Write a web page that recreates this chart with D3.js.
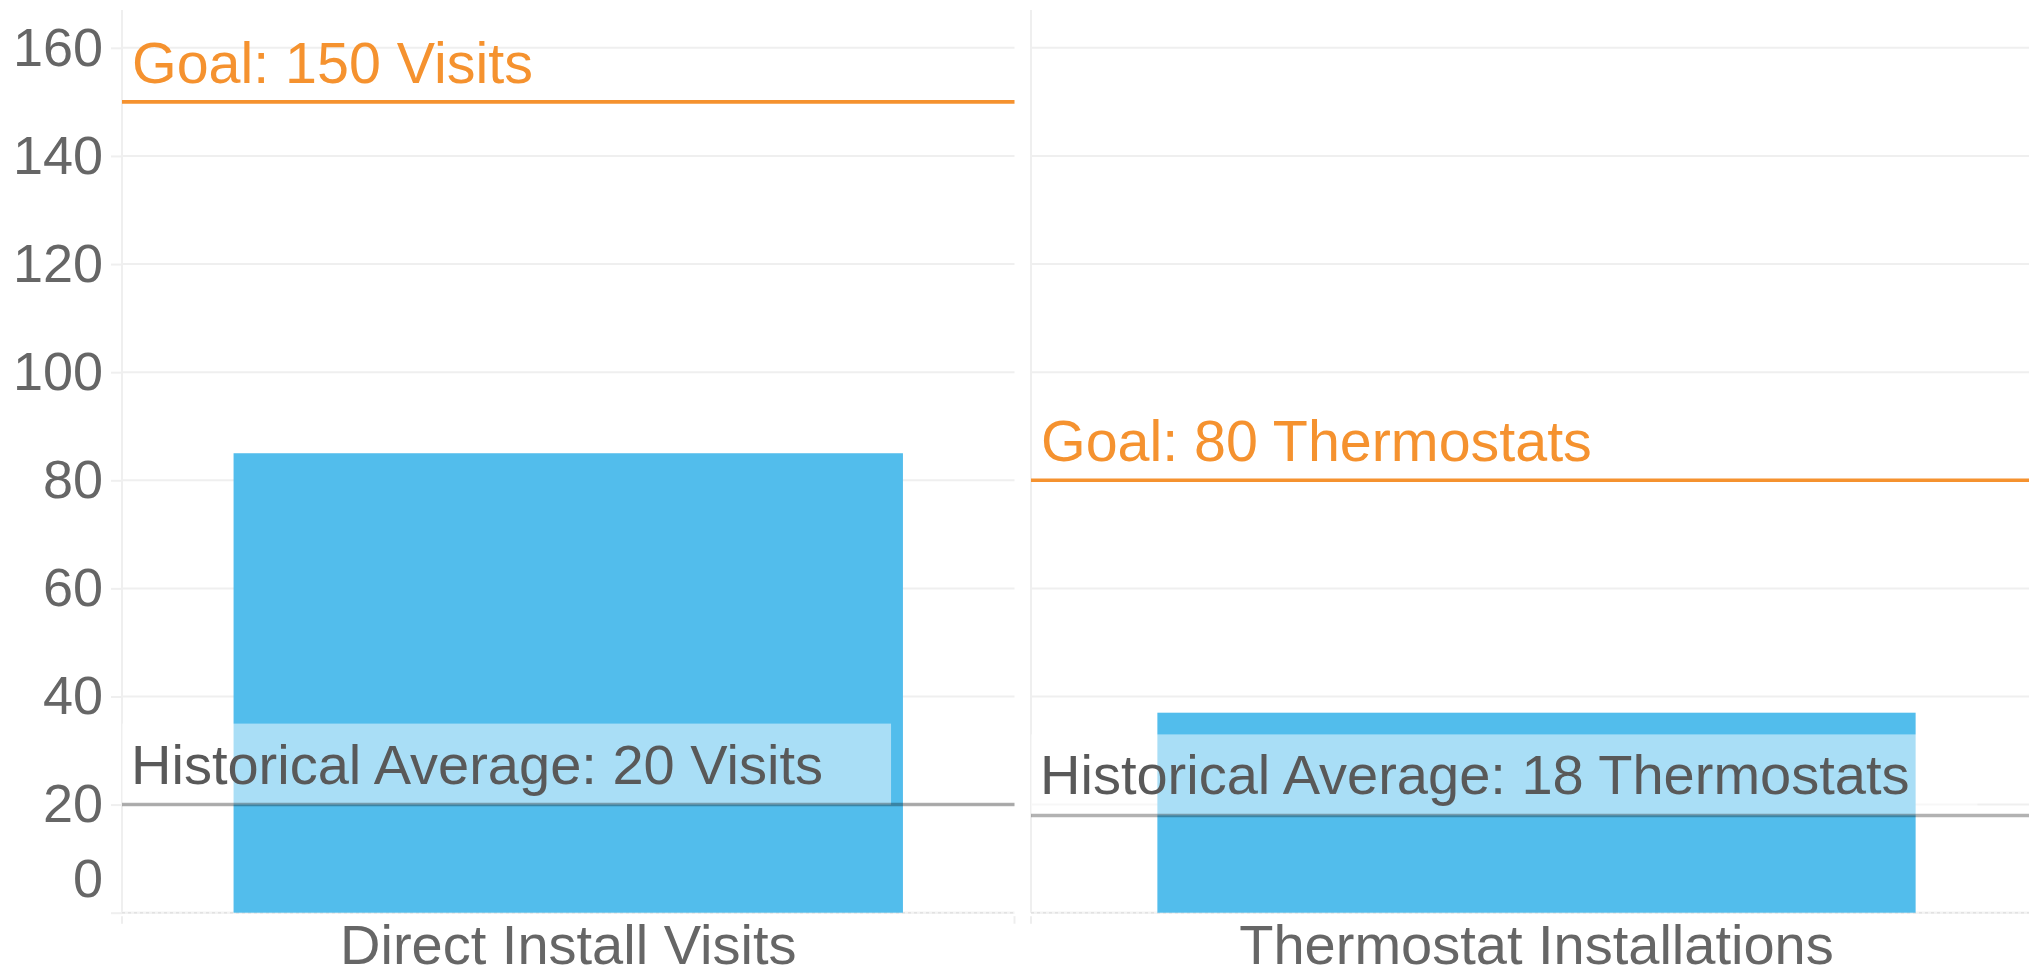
<!DOCTYPE html>
<html>
<head>
<meta charset="utf-8">
<script src="https://cdn.jsdelivr.net/npm/d3@7"></script>
<style>
  html, body { margin: 0; padding: 0; background: #ffffff; overflow: hidden; }
  svg { display: block; font-family: "Liberation Sans", Arial, Helvetica, sans-serif; }
</style>
</head>
<body>
<svg id="chart" width="2029" height="976"></svg>
<script>
// ---- Data ----
const categories = ["Direct Install Visits", "Thermostat Installations"];
const actualValues = [85, 37];
const goalValues = [150, 80];
const goalLabels = ["Goal: 150 Visits", "Goal: 80 Thermostats"];
const averageValues = [20, 18];
const averageLabels = ["Historical Average: 20 Visits", "Historical Average: 18 Thermostats"];
const yTickValues = [0, 20, 40, 60, 80, 100, 120, 140, 160];
const yDomainMax = 167;

// ---- Layout / style ----
const W = 2029, H = 976;
const plotTop = 10, plotBottom = 912.7;
const facetExtents = [[122, 1014.5], [1031, 2042]];
const barColor = "#52bdec";
const goalColor = "#f5922f";
const gridColor = "#efefef";
const tickTextColor = "#666666";
const annoTextColor = "#595959";
const fontSize = 56;
const goalFontSize = 57.4;

const svg = d3.select("#chart");
svg.append("rect").attr("width", W).attr("height", H).attr("fill", "#ffffff");

const y = d3.scaleLinear().domain([0, yDomainMax]).range([plotBottom, plotTop]);

categories.forEach((cat, i) => {
  const [x0, x1] = facetExtents[i];
  const x = d3.scaleBand().domain([cat]).range([x0, x1]).paddingInner(0.25).paddingOuter(0.125);
  const g = svg.append("g");

  // horizontal grid lines
  g.selectAll("line.grid").data(yTickValues.filter(v => v > 0)).enter().append("line")
    .attr("class", "grid")
    .attr("x1", x0).attr("x2", x1)
    .attr("y1", d => y(d)).attr("y2", d => y(d))
    .attr("stroke", gridColor).attr("stroke-width", 2);

  // left facet border line
  g.append("line")
    .attr("x1", x0).attr("x2", x0).attr("y1", plotTop).attr("y2", plotBottom)
    .attr("stroke", gridColor).attr("stroke-width", 2);

  // x-axis baseline (dotted look)
  g.append("line")
    .attr("x1", x0).attr("x2", x1).attr("y1", plotBottom).attr("y2", plotBottom)
    .attr("stroke", "#f3f3f3").attr("stroke-width", 2.5);
  g.append("line")
    .attr("x1", x0).attr("x2", x1).attr("y1", plotBottom).attr("y2", plotBottom)
    .attr("stroke", "#e2e2e2").attr("stroke-width", 1.5).attr("stroke-dasharray", "3,3");

  // x-axis band-edge ticks
  [x0, x1].forEach(xx => {
    g.append("line")
      .attr("x1", xx).attr("x2", xx).attr("y1", plotBottom + 3.5).attr("y2", plotBottom + 11)
      .attr("stroke", "#eeeeee").attr("stroke-width", 2);
  });

  // bar
  g.append("rect")
    .attr("x", x(cat)).attr("width", x.bandwidth())
    .attr("y", y(actualValues[i])).attr("height", y(0) - y(actualValues[i]))
    .attr("fill", barColor);

  // goal line + label
  g.append("line")
    .attr("x1", x0).attr("x2", x1)
    .attr("y1", y(goalValues[i])).attr("y2", y(goalValues[i]))
    .attr("stroke", goalColor).attr("stroke-width", 3.6);
  g.append("text")
    .attr("x", x0 + 10).attr("y", y(goalValues[i]) - 19)
    .attr("fill", goalColor).attr("font-size", goalFontSize)
    .text(goalLabels[i]);

  // historical average label with translucent backing
  const avgY = y(averageValues[i]);
  const t = g.append("text")
    .attr("x", x0 + 9).attr("y", avgY - 21)
    .attr("fill", annoTextColor).attr("font-size", fontSize)
    .text(averageLabels[i]);
  const tw = t.node().getComputedTextLength();
  g.insert("rect", () => t.node())
    .attr("x", x0).attr("y", avgY - 81)
    .attr("width", tw + 77).attr("height", 81)
    .attr("fill", "#ffffff").attr("fill-opacity", 0.5);
  g.append("line")
    .attr("x1", x0).attr("x2", x1)
    .attr("y1", avgY).attr("y2", avgY)
    .attr("stroke", "#000000").attr("stroke-opacity", 0.3).attr("stroke-width", 3.5);

  // x category label
  g.append("text")
    .attr("x", x(cat) + x.bandwidth() / 2).attr("y", 964)
    .attr("text-anchor", "middle")
    .attr("fill", tickTextColor).attr("font-size", fontSize)
    .text(cat);
});

// y axis on left facet
const yAxis = d3.axisLeft(y).tickValues(yTickValues).tickSize(11).tickPadding(8).tickFormat(d3.format("d"));
const ag = svg.append("g").attr("transform", `translate(${facetExtents[0][0]},0)`).call(yAxis);
ag.select(".domain").remove();
ag.selectAll(".tick line").attr("stroke", gridColor).attr("stroke-width", 2);
ag.selectAll(".tick text")
  .attr("fill", tickTextColor)
  .attr("font-size", 54)
  .attr("font-family", "\"Liberation Sans\", Arial, Helvetica, sans-serif");
// flush the bottom label upward, as in the reference
ag.selectAll(".tick").filter(d => d === 0).select("text").attr("y", -33.5);
</script>
</body>
</html>
